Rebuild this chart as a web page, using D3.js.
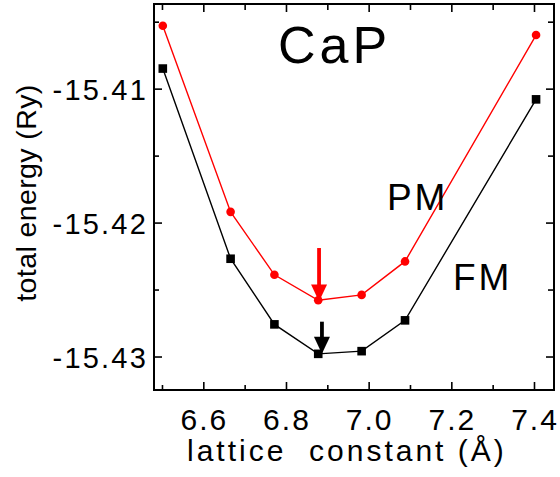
<!DOCTYPE html>
<html>
<head>
<meta charset="utf-8">
<script src="https://cdn.jsdelivr.net/npm/d3@7"></script>
<style>
  html,body{margin:0;padding:0;background:#fff;}
  svg{display:block;font-family:"Liberation Sans",Arial,Helvetica,sans-serif;}
</style>
</head>
<body>
<div id="chart"></div>
<script>
// lattice constant (Å) and total energies (Ry)
const lattice = [6.502, 6.666, 6.772, 6.878, 6.983, 7.088, 7.405];
const pmEnergy = [-15.4053, -15.4192, -15.4239, -15.4258, -15.4254, -15.4229, -15.4060];
const fmEnergy = [-15.4085, -15.4227, -15.4276, -15.4298, -15.4296, -15.4273, -15.4108];
// minimum markers: [x, y top, y tip]
const pmArrow = [6.880, -15.4219, -15.4259];
const fmArrow = [6.887, -15.4274, -15.4298];
const xTicks = [6.6, 6.8, 7.0, 7.2, 7.4];
const xMinor = [6.5, 6.7, 6.9, 7.1, 7.3];
const yTicks = [-15.41, -15.42, -15.43];
const yMinor = [-15.405, -15.415, -15.425];

const W = 560, H = 477, m = {t:4, r:6, b:87, l:154};
const w = W - m.l - m.r, h = H - m.t - m.b;
const svg = d3.select('#chart').append('svg').attr('width', W).attr('height', H);
const g = svg.append('g').attr('transform', `translate(${m.l},${m.t})`);

const x = d3.scaleLinear().domain([6.4807, 7.4484]).range([0, w]);
const y = d3.scaleLinear().domain([-15.4325, -15.40368]).range([h, 0]);

// ticks, all pointing inward
const ticks = (axis, vals, len) => axis.tickValues(vals).tickSize(-len).tickFormat('');
const tickStyle = sel => sel.call(s => s.select('.domain').remove())
  .call(s => s.selectAll('line').attr('stroke', '#000').attr('stroke-width', 1.6));
g.append('g').attr('transform', `translate(0,${h})`).call(ticks(d3.axisBottom(x), xTicks, 8)).call(tickStyle);
g.append('g').attr('transform', `translate(0,${h})`).call(ticks(d3.axisBottom(x), xMinor, 5)).call(tickStyle);
g.append('g').call(ticks(d3.axisTop(x), xTicks, 8)).call(tickStyle);
g.append('g').call(ticks(d3.axisTop(x), xMinor, 6)).call(tickStyle);
g.append('g').call(ticks(d3.axisLeft(y), yTicks, 8)).call(tickStyle);
g.append('g').call(ticks(d3.axisLeft(y), yMinor, 5)).call(tickStyle);
g.append('g').attr('transform', `translate(${w},0)`).call(ticks(d3.axisRight(y), yTicks, 8)).call(tickStyle);
g.append('g').attr('transform', `translate(${w},0)`).call(ticks(d3.axisRight(y), yMinor, 6)).call(tickStyle);

// frame
g.append('rect').attr('width', w).attr('height', h).attr('fill', 'none').attr('stroke', '#000').attr('stroke-width', 2);

// tick labels
g.selectAll('.xl').data(xTicks).join('text').attr('class', 'xl')
  .attr('x', d => x(d) + 1).attr('y', h + 40).attr('text-anchor', 'middle')
  .attr('font-size', 30).attr('letter-spacing', 2).text(d => d.toFixed(1));
g.selectAll('.yl').data(yTicks).join('text').attr('class', 'yl')
  .attr('x', -6).attr('y', d => y(d) + 11).attr('text-anchor', 'end')
  .attr('font-size', 29).attr('letter-spacing', 2.2).text(d => d.toFixed(2));

// axis titles
svg.append('text').attr('x', 187).attr('y', 461).attr('font-size', 30).attr('letter-spacing', 3)
  .attr('xml:space', 'preserve').style('white-space', 'pre').text('lattice  constant (Å)');
svg.append('text').attr('transform', `translate(36,193) rotate(-90)`).attr('text-anchor', 'middle')
  .attr('font-size', 28.5).attr('letter-spacing', 0.4).text('total energy (Ry)');

// curves
const pts = vals => lattice.map((d, i) => [d, vals[i]]);
const line = d3.line().x(d => x(d[0])).y(d => y(d[1]));
g.append('path').datum(pts(pmEnergy)).attr('fill', 'none').attr('stroke', '#ff0000').attr('stroke-width', 1.4).attr('d', line);
g.append('path').datum(pts(fmEnergy)).attr('fill', 'none').attr('stroke', '#000').attr('stroke-width', 1.4).attr('d', line);
g.selectAll('.pm').data(pts(pmEnergy)).join('circle').attr('class', 'pm')
  .attr('cx', d => x(d[0])).attr('cy', d => y(d[1])).attr('r', 4.3).attr('fill', '#ff0000');
g.selectAll('.fm').data(pts(fmEnergy)).join('rect').attr('class', 'fm')
  .attr('x', d => x(d[0]) - 4.3).attr('y', d => y(d[1]) - 4.3).attr('width', 8.6).attr('height', 8.6).attr('fill', '#000');

// arrows
function arrow([ax, y0, y1], col) {
  const px = x(ax), top = y(y0), tip = y(y1), hl = 17, hw = 8;
  g.append('line').attr('x1', px).attr('x2', px).attr('y1', top).attr('y2', tip - hl + 2)
    .attr('stroke', col).attr('stroke-width', 3.8);
  g.append('path').attr('d', `M${px - hw},${tip - hl}L${px + hw},${tip - hl}L${px},${tip}Z`).attr('fill', col);
}
arrow(pmArrow, '#ff0000');
arrow(fmArrow, '#000');

// labels
svg.append('text').attr('x', 278).attr('y', 63).attr('font-size', 52).attr('letter-spacing', 4).text('CaP');
svg.append('text').attr('x', 387).attr('y', 210).attr('font-size', 37).attr('letter-spacing', 2.8).text('PM');
svg.append('text').attr('x', 453).attr('y', 290).attr('font-size', 37).attr('letter-spacing', 2.8).text('FM');
</script>
</body>
</html>
